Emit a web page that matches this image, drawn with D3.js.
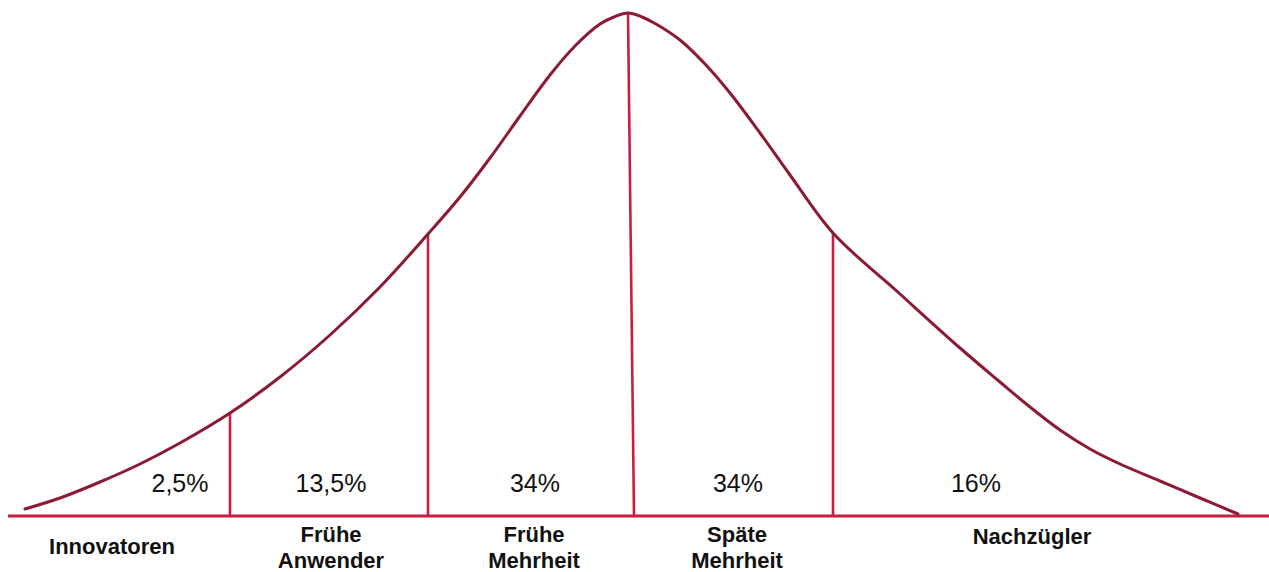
<!DOCTYPE html>
<html>
<head>
<meta charset="utf-8">
<script src="https://cdn.jsdelivr.net/npm/d3@7"></script>
<style>
  html, body { margin: 0; padding: 0; background: #fff; }
  svg { display: block; }
</style>
</head>
<body>
<svg id="chart" width="1269" height="572"></svg>
<script>
// ---- data ----
// adoption curve (x position, height above baseline)
const curveX = [25, 60, 100, 140, 180, 230, 280, 330, 380, 428, 460, 490, 520, 550, 575, 600, 614, 628,
                642, 656, 680, 705, 730, 760, 790, 833, 900, 960, 1000, 1030, 1060, 1090,
                1120, 1160, 1200, 1238];
const curveH = [7, 18, 34, 52, 73, 103, 139, 181, 229, 282, 319, 358, 400, 441, 470, 492, 499, 503,
                499, 492, 476, 452, 423, 383, 341, 283, 222, 168, 134, 109, 86, 67,
                52, 35, 18, 2];
// segment dividers (top on curve, foot on baseline)
const dividerTopX = [230, 428, 628, 833];
const dividerFootX = [230, 428, 634, 833];
// segment labels
const shares = ["2,5%", "13,5%", "34%", "34%", "16%"];
const categories = [["Innovatoren"], ["Frühe", "Anwender"], ["Frühe", "Mehrheit"], ["Späte", "Mehrheit"], ["Nachzügler"]];

// ---- layout ----
const W = 1269, H = 572;
const baseY = 516, topY = 13;
const shareLabelX = [180, 331, 535, 738, 976];
const catLabelX = [112, 331, 534, 737, 1032];
const curveColor = "#8c1a35";
const lineColor = "#c81e41";

const svg = d3.select("#chart");
const x = d3.scaleLinear().domain([0, W]).range([0, W]);
const y = d3.scaleLinear().domain([0, d3.max(curveH)]).range([baseY, topY]);

const pts = curveX.map((v, i) => [v, curveH[i]]);
const heightAt = xv => {
  const i = curveX.indexOf(xv);
  if (i >= 0) return curveH[i];
  const j = d3.bisectLeft(curveX, xv);
  const t = (xv - curveX[j - 1]) / (curveX[j] - curveX[j - 1]);
  return curveH[j - 1] + t * (curveH[j] - curveH[j - 1]);
};

// baseline
svg.append("line")
  .attr("x1", x(8)).attr("x2", x(W))
  .attr("y1", y(0)).attr("y2", y(0))
  .attr("stroke", lineColor).attr("stroke-width", 3);

// dividers
svg.selectAll("line.div").data(dividerTopX).join("line")
  .attr("class", "div")
  .attr("x1", d => x(d)).attr("y1", d => y(heightAt(d)))
  .attr("x2", (d, i) => x(dividerFootX[i])).attr("y2", y(0))
  .attr("stroke", lineColor).attr("stroke-width", 2.6);

// curve
const line = d3.line()
  .x(d => x(d[0])).y(d => y(d[1]))
  .curve(d3.curveCatmullRom.alpha(0.5));
svg.append("path")
  .datum(pts)
  .attr("d", line)
  .attr("fill", "none")
  .attr("stroke", curveColor)
  .attr("stroke-width", 3)
  .attr("stroke-linecap", "round");

// share labels
svg.selectAll("text.share").data(shares).join("text")
  .attr("class", "share")
  .attr("x", (d, i) => x(shareLabelX[i]))
  .attr("y", 492)
  .attr("text-anchor", "middle")
  .attr("font-family", "Liberation Sans, Arial, sans-serif")
  .attr("font-size", 25)
  .attr("fill", "#111")
  .text(d => d);

// category labels
const cat = svg.selectAll("text.cat").data(categories).join("text")
  .attr("class", "cat")
  .attr("text-anchor", "middle")
  .attr("font-family", "Liberation Sans, Arial, sans-serif")
  .attr("font-weight", "bold")
  .attr("font-size", 22)
  .attr("fill", "#111");
cat.each(function(d, i) {
  const t = d3.select(this);
  const y0 = d.length === 1 ? (i === 0 ? 554 : 544) : 542;
  d.forEach((s, k) => {
    t.append("tspan").attr("x", x(catLabelX[i])).attr("y", y0 + k * 25.5).text(s);
  });
});
</script>
</body>
</html>
